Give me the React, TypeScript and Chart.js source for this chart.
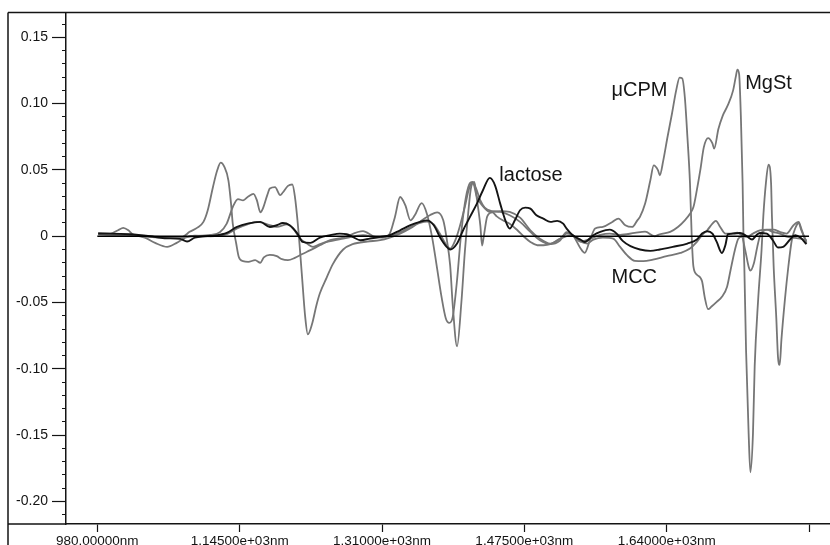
import React, { useEffect, useRef } from 'react';
import { Chart, registerables } from 'chart.js';

Chart.register(...registerables);

// Axis ranges (nm, absorbance derivative)
const X_MIN = 943.7;
const X_MAX = 1829.3;
const Y_MIN = -0.217;
const Y_MAX = 0.1688;

const xTicks = [980, 1145, 1310, 1475, 1640, 1805];
const xTickLabels = ['980.00000nm', '1.14500e+03nm', '1.31000e+03nm', '1.47500e+03nm', '1.64000e+03nm', ''];
const yTicks = [-0.2, -0.15, -0.1, -0.05, 0, 0.05, 0.1, 0.15];
const yTickLabels = ['-0.20', '-0.15', '-0.10', '-0.05', '0', '0.05', '0.10', '0.15'];
const yMinorTicks: number[] = [];
for (let k = -21; k <= 16; k++) yMinorTicks.push(k / 100);

// MgSt
const mgstNm = [981, 995, 1014, 1033, 1053, 1072, 1091, 1111, 1122, 1130, 1137, 1143, 1149, 1155, 1161, 1165, 1169, 1172, 1177, 1180,
  1186, 1192, 1195, 1201, 1206, 1209, 1213, 1217, 1221, 1224, 1229, 1234, 1238, 1246, 1253, 1265, 1276, 1293, 1308, 1319,
  1331, 1343, 1354, 1366, 1374, 1381, 1385, 1389, 1392, 1397, 1402, 1406, 1410, 1413, 1417, 1420, 1424, 1426, 1428, 1432,
  1438, 1443, 1450, 1458, 1467, 1474, 1482, 1490, 1497, 1505, 1516, 1531, 1540, 1551, 1563, 1574, 1586, 1603, 1615, 1626,
  1632, 1644, 1653, 1661, 1667, 1671, 1675, 1679, 1683, 1688, 1693, 1695, 1700, 1705, 1711, 1717, 1720, 1722, 1724, 1726,
  1728, 1729, 1730, 1732, 1735, 1737, 1740, 1742, 1746, 1750, 1752, 1755, 1758, 1761, 1762, 1764, 1767, 1769, 1771, 1773,
  1777, 1781, 1785, 1789, 1793, 1796, 1802];
const mgstVal = [0.002, 0.0015, 0.001, 0, -0.001, -0.001, 0, 0.001, 0.003, 0.0095, 0.022, 0.028, 0.027, 0.030, 0.032, 0.027, 0.018, 0.021, 0.031, 0.036,
  0.037, 0.031, 0.033, 0.038, 0.039, 0.030, 0.005, -0.028, -0.061, -0.074, -0.066, -0.052, -0.043, -0.031, -0.021, -0.010, -0.006, -0.004, -0.003, -0.001,
  0.002, 0.006, 0.011, 0.016, 0.018, 0.012, -0.002, -0.022, -0.052, -0.083, -0.050, -0.012, 0.018, 0.036, 0.041, 0.028, 0.008, -0.007, 0, 0.015,
  0.018, 0.015, 0.012, 0.0095, 0.0045, 0, -0.0043, -0.0068, -0.0068, -0.006, -0.002, 0.0008, -0.004, -0.002, 0.001, 0.002, 0.001, 0.0025, 0.0035, 0,
  0.0015, 0.0033, 0.007, 0.012, 0.017, 0.022, 0.035, 0.050, 0.067, 0.074, 0.070, 0.066, 0.081, 0.091, 0.099, 0.110, 0.120, 0.1256, 0.122, 0.090,
  0.040, 0, -0.023, -0.086, -0.149, -0.178, -0.149, -0.098, -0.048, -0.010, 0.015, 0.040, 0.054, 0.040, 0.015, -0.023, -0.061, -0.091, -0.097, -0.078,
  -0.048, -0.023, -0.003, 0.006, 0.010, 0.0045, -0.004];

// μCPM
const ucpmNm = [981, 995, 1004, 1010, 1016, 1021, 1038, 1053, 1068, 1079, 1087, 1096, 1103, 1108, 1114, 1119, 1123, 1127, 1132, 1135,
  1137, 1141, 1144, 1149, 1155, 1163, 1169, 1173, 1180, 1188, 1194, 1201, 1209, 1217, 1227, 1238, 1250, 1265, 1288, 1300,
  1311, 1319, 1325, 1331, 1337, 1343, 1348, 1356, 1362, 1368, 1373, 1379, 1384, 1388, 1392, 1397, 1401, 1406, 1411, 1415,
  1420, 1426, 1435, 1447, 1458, 1470, 1482, 1493, 1505, 1516, 1524, 1531, 1540, 1545, 1551, 1557, 1566, 1577, 1584, 1592,
  1600, 1606, 1609, 1615, 1621, 1625, 1630, 1632, 1636, 1641, 1646, 1651, 1655, 1658, 1661, 1664, 1667, 1669, 1671, 1675,
  1681, 1684, 1688, 1692, 1698, 1704, 1710, 1714, 1719, 1723, 1727, 1731, 1735, 1737, 1741, 1745, 1748, 1752, 1758, 1764,
  1771, 1779, 1787, 1793, 1796, 1802];
const ucpmVal = [0.0025, 0.002, 0.0045, 0.0063, 0.0045, 0.0015, 0, -0.0005, -0.001, -0.0005, 0.0033, 0.0065, 0.0108, 0.0196, 0.037, 0.0497, 0.0555, 0.0527, 0.042, 0.0246,
  0.0095, -0.0055, -0.0156, -0.0188, -0.0193, -0.018, -0.020, -0.016, -0.014, -0.015, -0.0173, -0.018, -0.0163, -0.0136, -0.0105, -0.0068, -0.003, -0.001, 0.0038, 0,
  -0.001, 0.002, 0.0146, 0.0296, 0.0234, 0.012, 0.0158, 0.025, 0.017, -0.0005, -0.0206, -0.0457, -0.062, -0.0653, -0.0608, -0.033, -0.003, 0.0246, 0.039, 0.041,
  0.0296, 0.0234, 0.0183, 0.019, 0.0183, 0.014, 0.0045, -0.0018, -0.0055, -0.002, 0.002, 0.0008, -0.009, -0.0125, -0.003, 0.0058, 0.007, 0.0108, 0.0133, 0.0083,
  0.007, 0.012, 0.0146, 0.0246, 0.042, 0.0535, 0.0497, 0.046, 0.057, 0.075, 0.092, 0.110, 0.1196, 0.119, 0.105, 0.075, 0.040, 0, -0.023, -0.029,
  -0.034, -0.0457, -0.055, -0.053, -0.0495, -0.0457, -0.038, -0.0256, -0.0105, -0.0018, -0.0005, -0.0105, -0.023, -0.026, -0.0206, -0.008, 0, 0.004, 0.005, 0.005,
  0.0033, 0.002, 0.0083, 0.0108, 0.0058, -0.0055];

// MCC
const mccNm = [981, 995, 1018, 1035, 1047, 1061, 1072, 1082, 1093, 1111, 1122, 1130, 1142, 1154, 1165, 1177, 1188, 1200, 1207, 1215,
  1223, 1230, 1238, 1246, 1265, 1288, 1304, 1319, 1331, 1343, 1354, 1362, 1370, 1377, 1385, 1389, 1395, 1400, 1406, 1411,
  1415, 1419, 1424, 1429, 1437, 1447, 1458, 1470, 1482, 1493, 1505, 1516, 1524, 1531, 1540, 1548, 1555, 1566, 1578, 1586,
  1594, 1603, 1613, 1624, 1640, 1656, 1667, 1675, 1681, 1687, 1693, 1697, 1702, 1708, 1713, 1722, 1727, 1733, 1740, 1748,
  1756, 1763, 1771, 1780, 1786, 1795, 1802];
const mccVal = [0.0015, 0.001, 0.001, -0.001, -0.005, -0.008, -0.005, -0.001, 0.0005, 0, 0.0005, 0.0015, 0.0058, 0.009, 0.0108, 0.009, 0.007, 0.009, 0.0058, -0.0018,
  -0.0055, -0.008, -0.006, -0.0043, -0.0018, 0.0008, -0.001, 0, 0.003, 0.007, 0.010, 0.011, 0.009, 0.002, -0.0068, -0.0093, -0.003, 0.007, 0.022, 0.036,
  0.040, 0.036, 0.027, 0.0216, 0.019, 0.0183, 0.0158, 0.0108, 0.0033, -0.003, -0.006, -0.0035, 0.003, 0.0008, -0.004, -0.0055, -0.0025, -0.001, -0.0018, -0.008,
  -0.0143, -0.0186, -0.0188, -0.0176, -0.015, -0.0126, -0.0093, -0.0043, 0.0008, 0.0045, 0.0095, 0.0116, 0.007, 0.002, 0.002, 0.0028, 0.0008, -0.0005, 0.002, 0.0045,
  0.005, 0.0033, 0.002, -0.0005, -0.001, -0.0018, -0.003];

// lactose
const lactoseNm = [981, 995, 1018, 1041, 1058, 1076, 1084, 1093, 1105, 1116, 1130, 1142, 1154, 1169, 1180, 1188, 1195, 1203, 1212, 1218,
  1227, 1238, 1250, 1261, 1269, 1276, 1285, 1296, 1308, 1319, 1331, 1343, 1354, 1362, 1370, 1377, 1385, 1389, 1397, 1404,
  1412, 1420, 1427, 1435, 1441, 1447, 1453, 1458, 1464, 1470, 1476, 1482, 1489, 1497, 1505, 1513, 1520, 1524, 1531, 1540,
  1545, 1555, 1563, 1574, 1582, 1589, 1598, 1609, 1621, 1632, 1647, 1664, 1675, 1681, 1687, 1693, 1698, 1704, 1708, 1711,
  1717, 1725, 1733, 1739, 1744, 1748, 1756, 1763, 1769, 1775, 1783, 1789, 1795, 1802];
const lactoseVal = [0.002, 0.002, 0.0015, 0, -0.0015, -0.002, -0.004, -0.001, 0, 0.0005, 0.0025, 0.007, 0.0095, 0.0108, 0.007, 0.0083, 0.010, 0.0083, 0.002, -0.0043,
  -0.005, -0.001, 0.0008, 0.002, 0.0015, -0.0005, -0.003, -0.0018, -0.0005, 0.0008, 0.0045, 0.0083, 0.0108, 0.012, 0.0083, -0.0005, -0.008, -0.010, -0.0055, 0.0045,
  0.0146, 0.0246, 0.0347, 0.044, 0.0384, 0.0246, 0.012, 0.0058, 0.012, 0.0196, 0.0216, 0.0208, 0.0158, 0.0133, 0.0108, 0.0116, 0.0095, 0.0058, 0.0008, -0.0025,
  -0.0043, 0.0008, 0.0033, 0.005, 0.002, -0.0035, -0.0075, -0.010, -0.011, -0.010, -0.008, -0.0055, -0.0025, 0.002, 0.0038, 0.002, -0.0043, -0.0126, -0.0068, 0.0015,
  0.002, 0.0025, 0, -0.0025, 0.0008, 0.0025, 0.002, -0.003, -0.0085, -0.008, -0.0025, 0.0008, -0.001, -0.006];

// baseline
const zeroNm = [980, 1805];
const zeroVal = [0, 0];

// in-plot labels (anchor = left end of baseline, in data coordinates)
const seriesLabels = ['lactose', 'μCPM', 'MgSt', 'MCC'];
const labelNm = [1446, 1576, 1731, 1576];
const labelVal = [0.0417, 0.1057, 0.1113, -0.0356];

const toPoints = (xs: number[], ys: number[]) => xs.map((x, i) => ({ x, y: ys[i] }));

const FONT = 'Arial, "Liberation Sans", Helvetica, sans-serif';
const GRAY = '#767676';
const INK = '#141414';

export default function App() {
  const ref = useRef<HTMLCanvasElement>(null);

  useEffect(() => {
    const canvas = ref.current;
    if (!canvas) return;

    const framePlugin = {
      id: 'frameAndLabels',
      afterDraw(chart: any) {
        const { ctx, chartArea } = chart;
        ctx.save();
        ctx.strokeStyle = INK;
        ctx.lineWidth = 1.5;
        ctx.beginPath();
        ctx.moveTo(8, chartArea.top);
        ctx.lineTo(chart.width, chartArea.top);
        ctx.moveTo(8, chartArea.top);
        ctx.lineTo(8, chart.height);
        ctx.moveTo(8, chartArea.bottom);
        ctx.lineTo(chartArea.left, chartArea.bottom);
        ctx.stroke();
        ctx.fillStyle = INK;
        ctx.font = `20px ${FONT}`;
        ctx.textAlign = 'left';
        ctx.textBaseline = 'alphabetic';
        const xs = chart.scales.x;
        const ys = chart.scales.y;
        seriesLabels.forEach((t, i) => {
          ctx.fillText(t, xs.getPixelForValue(labelNm[i]), ys.getPixelForValue(labelVal[i]));
        });
        ctx.restore();
      },
    };

    const lineDs = (label: string, xs: number[], ys: number[], color: string, width: number) => ({
      label,
      data: toPoints(xs, ys),
      borderColor: color,
      backgroundColor: color,
      borderWidth: width,
      pointRadius: 0,
      fill: false,
      cubicInterpolationMode: 'monotone' as const,
    });

    const chart = new Chart(canvas, {
      type: 'line',
      data: {
        datasets: [
          lineDs('zero', zeroNm, zeroVal, '#000000', 1.5),
          lineDs('lactose', lactoseNm, lactoseVal, INK, 1.9),
          lineDs('MCC', mccNm, mccVal, GRAY, 1.8),
          lineDs('μCPM', ucpmNm, ucpmVal, GRAY, 1.8),
          lineDs('MgSt', mgstNm, mgstVal, GRAY, 1.8),
        ],
      },
      options: {
        responsive: false,
        animation: false,
        layout: { padding: { top: 12, left: 0, right: 0, bottom: 0 } },
        plugins: { legend: { display: false }, tooltip: { enabled: false } },
        scales: {
          x: {
            type: 'linear',
            position: 'bottom',
            min: X_MIN,
            max: X_MAX,
            afterBuildTicks: (s: any) => { s.ticks = xTicks.map((v) => ({ value: v })); },
            afterFit: (s: any) => { s.height = 21; },
            grid: { drawOnChartArea: false, drawTicks: true, tickLength: 8, tickColor: INK, tickWidth: 1.2 },
            border: { display: true, color: INK, width: 1.5 },
            ticks: {
              autoSkip: false, maxRotation: 0, minRotation: 0, padding: 3, color: INK,
              font: { family: FONT, size: 13.5, lineHeight: 1 },
              callback: (_v: any, i: number) => xTickLabels[i],
            },
          },
          y: {
            type: 'linear',
            position: 'left',
            weight: 1,
            min: Y_MIN,
            max: Y_MAX,
            afterBuildTicks: (s: any) => { s.ticks = yTicks.map((v) => ({ value: v })); },
            afterFit: (s: any) => { s.width = 66; },
            grid: { drawOnChartArea: false, drawTicks: true, tickLength: 14, tickColor: INK, tickWidth: 1.2 },
            border: { display: true, color: INK, width: 1.5 },
            ticks: {
              padding: 4, color: INK,
              font: { family: FONT, size: 14 },
              callback: (_v: any, i: number) => yTickLabels[i],
            },
          },
          yMinor: {
            type: 'linear',
            position: 'left',
            weight: 0,
            min: Y_MIN,
            max: Y_MAX,
            afterBuildTicks: (s: any) => { s.ticks = yMinorTicks.map((v) => ({ value: v })); },
            afterFit: (s: any) => { s.width = 0; },
            grid: { drawOnChartArea: false, drawTicks: true, tickLength: 4, tickColor: INK, tickWidth: 1 },
            border: { display: false },
            ticks: { display: false },
          },
        },
      } as any,
      plugins: [framePlugin],
    });

    return () => chart.destroy();
  }, []);

  return (
    <div style={{ position: 'absolute', left: 0, top: 0, width: 830, height: 545, background: '#fff' }}>
      <canvas ref={ref} width={830} height={545} style={{ display: 'block', width: 830, height: 545 }} />
    </div>
  );
}
